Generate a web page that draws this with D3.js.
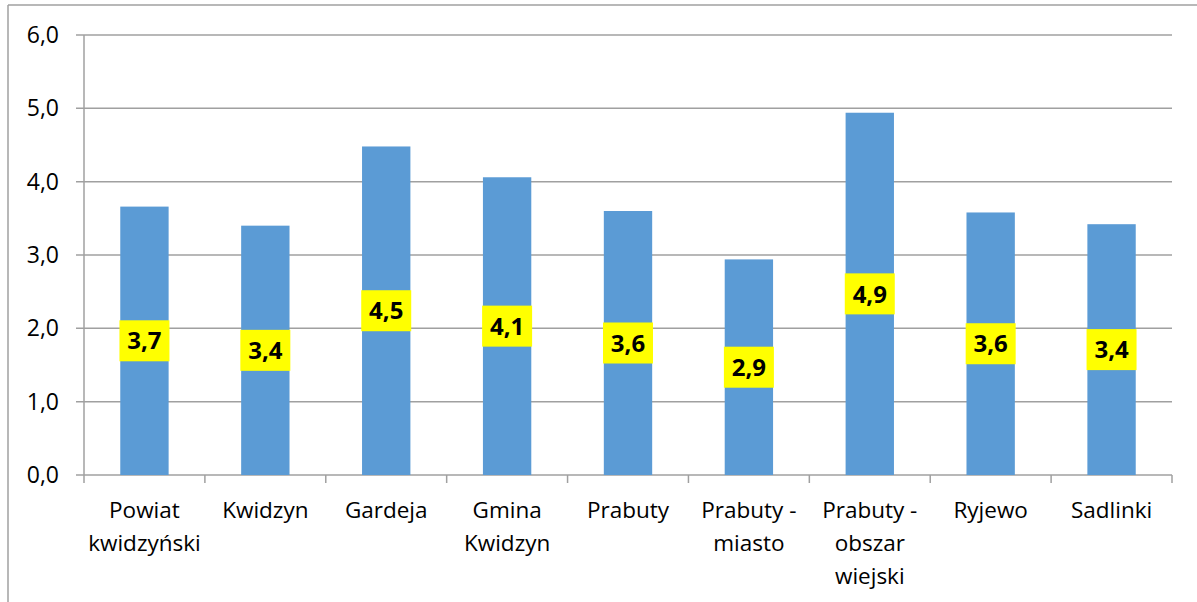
<!DOCTYPE html>
<html>
<head>
<meta charset="utf-8">
<script src="https://cdn.jsdelivr.net/npm/d3@7"></script>
<style>
  body { margin: 0; background: #fff; }
  svg { display: block; font-family: "Open Sans", "Noto Sans", sans-serif; }
</style>
</head>
<body>
<svg width="1197" height="602"></svg>
<script>
// categories (multi-line labels split on "|")
var categories = ["Powiat|kwidzyński", "Kwidzyn", "Gardeja", "Gmina|Kwidzyn", "Prabuty",
    "Prabuty -|miasto", "Prabuty -|obszar|wiejski", "Ryjewo", "Sadlinki"];
var values = [3.66, 3.40, 4.48, 4.06, 3.60, 2.94, 4.94, 3.58, 3.42];
var yTicks = [0, 1, 2, 3, 4, 5, 6];

var svg = d3.select("svg");
var margin = {left: 84, right: 25, top: 35, bottom: 127};
var width = 1197 - margin.left - margin.right;
var height = 602 - margin.top - margin.bottom;

// outer frame (cut chart border)
svg.append("line").attr("x1", 8).attr("x2", 1197).attr("y1", 5).attr("y2", 5)
    .attr("stroke", "#a0a0a0").attr("stroke-width", 1.5);
svg.append("line").attr("x1", 8).attr("x2", 8).attr("y1", 5).attr("y2", 602)
    .attr("stroke", "#a0a0a0").attr("stroke-width", 1.5);

var g = svg.append("g").attr("transform", "translate(" + margin.left + "," + margin.top + ")");

var x = d3.scaleBand().domain(categories).range([0, width]).paddingInner(0.6).paddingOuter(0.3);
var y = d3.scaleLinear().domain([0, 6]).range([height, 0]);
var fmt = function (v) { return d3.format(".1f")(v).replace(".", ","); };

// gridlines
g.append("g").selectAll("line").data(yTicks).enter().append("line")
    .attr("x1", -8).attr("x2", width)
    .attr("y1", function (d) { return y(d); })
    .attr("y2", function (d) { return y(d); })
    .attr("stroke", "#a0a0a0").attr("stroke-width", 1.5);

// y tick labels
g.append("g").selectAll("text").data(yTicks).enter().append("text")
    .attr("x", -25).attr("y", function (d) { return y(d); })
    .attr("dy", "0.35em").attr("text-anchor", "end")
    .attr("font-size", 23).attr("fill", "#000")
    .text(fmt);

// y axis line
g.append("line").attr("x1", 0).attr("x2", 0).attr("y1", 0).attr("y2", height)
    .attr("stroke", "#a0a0a0").attr("stroke-width", 1.5);

// x category ticks
g.append("g").selectAll("line").data(d3.range(categories.length + 1)).enter().append("line")
    .attr("x1", function (i) { return i * width / categories.length; })
    .attr("x2", function (i) { return i * width / categories.length; })
    .attr("y1", height).attr("y2", height + 8)
    .attr("stroke", "#a0a0a0").attr("stroke-width", 1.5);

// bars
g.append("g").selectAll("rect").data(values).enter().append("rect")
    .attr("x", function (d, i) { return x(categories[i]); })
    .attr("width", x.bandwidth())
    .attr("y", function (d) { return y(d); })
    .attr("height", function (d) { return height - y(d); })
    .attr("fill", "#5b9bd5");

// value labels on yellow boxes
var labels = g.append("g").selectAll("g").data(values).enter().append("g")
    .attr("transform", function (d, i) {
        return "translate(" + (x(categories[i]) + x.bandwidth() / 2) + "," + y(d / 2) + ")";
    });
labels.append("rect").attr("x", -25).attr("y", -20.5).attr("width", 50).attr("height", 41)
    .attr("fill", "#ffff00");
labels.append("text").attr("text-anchor", "middle").attr("dy", "0.36em")
    .attr("font-size", 24).attr("font-weight", "bold").attr("fill", "#000")
    .text(fmt);

// category labels
var cat = g.append("g").selectAll("text").data(categories).enter().append("text")
    .attr("text-anchor", "middle").attr("font-size", 22.5).attr("fill", "#000")
    .attr("transform", function (d) {
        return "translate(" + (x(d) + x.bandwidth() / 2) + "," + (height + 43) + ")";
    });
cat.selectAll("tspan").data(function (d) { return d.split("|"); }).enter().append("tspan")
    .attr("x", 0).attr("y", function (d, i) { return i * 33; })
    .text(function (d) { return d; });
</script>
</body>
</html>
